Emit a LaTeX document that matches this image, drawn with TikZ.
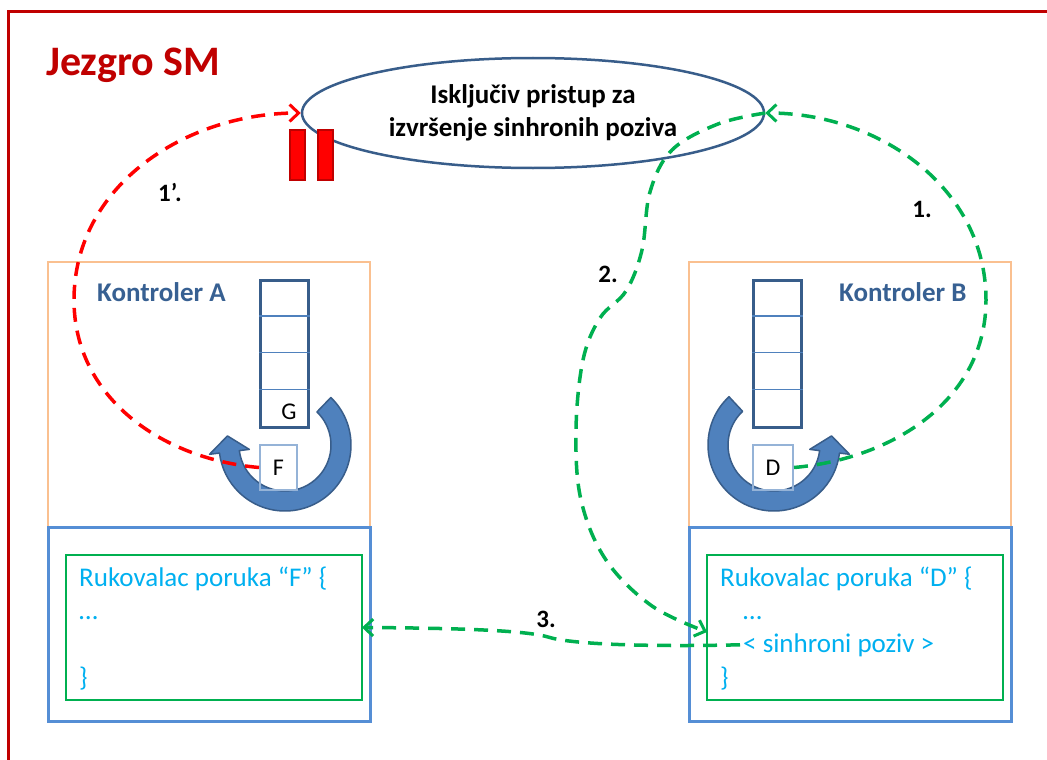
\documentclass[tikz,border=0pt]{standalone}
\usepackage{fontspec}
\setmainfont{Carlito}
\usetikzlibrary{arrows.meta,shapes.geometric,calc}

\definecolor{frameRed}{HTML}{C00000}
\definecolor{lockRed}{HTML}{FF0000}
\definecolor{steel}{HTML}{385D8A}
\definecolor{ctrlText}{HTML}{376092}
\definecolor{ctrlOrange}{HTML}{FAC090}
\definecolor{handlerBlue}{HTML}{558ED5}
\definecolor{codeGreen}{HTML}{00B050}
\definecolor{codeCyan}{HTML}{00B0F0}
\definecolor{loopBlue}{HTML}{4F81BD}
\definecolor{msgBlue}{HTML}{95B3D7}

\begin{document}
\begin{tikzpicture}[x=1pt,y=-1pt,
  ctrlbox/.style={draw=ctrlOrange, line width=2.5pt, anchor=north west, inner sep=0, outer sep=0},
  handlerbox/.style={draw=handlerBlue, line width=3pt, anchor=north west, inner sep=0, outer sep=0},
  codebox/.style={draw=codeGreen, line width=2.5pt, anchor=north west, inner sep=0, outer sep=0},
  queue/.style={draw=steel, line width=2.5pt, anchor=north west, inner sep=0, minimum width=48pt, minimum height=147pt},
  msgbox/.style={draw=msgBlue, line width=2pt, inner sep=0, minimum height=45pt, font=\fontsize{24}{28}\selectfont},
  ctrllabel/.style={text=ctrlText, anchor=base west, inner sep=0, font=\fontsize{27}{32}\selectfont\bfseries},
  code/.style={text=codeCyan, anchor=base west, inner sep=0, font=\fontsize{27}{32}\selectfont},
  steplabel/.style={inner sep=0, font=\fontsize{25}{30}\selectfont\bfseries},
  loop/.style={fill=loopBlue, draw=steel, line width=1.5pt, line join=round},
  flow/.style={line width=3.5pt, dash pattern=on 14pt off 9pt,
    -{Straight Barb[length=9pt,width=17pt,line width=3pt]}},
  lock/.style={fill=lockRed, draw=frameRed, line width=1.5pt}]

\useasboundingbox (0,0) rectangle (1047,760);
\fill[white] (0,0) rectangle (1047,760);

% kernel frame and title
\draw[frameRed, line width=3pt] (8,760) -- (8,12) -- (1047,12);
\node[anchor=base west, inner sep=0, text=frameRed,
      font=\fontsize{42}{48}\selectfont\bfseries] (title) at (46,76) {Jezgro SM};

% shared section with exclusive access
\node[ellipse, draw=steel, line width=2.5pt, minimum width=462pt, minimum height=110pt,
      inner sep=0, align=center, font=\fontsize{27}{33}\selectfont\bfseries]
      (E) at (533,113) {Isključiv pristup za\\izvršenje sinhronih poziva};
\filldraw[lock] (290,130) rectangle (305,180);
\filldraw[lock] (318,130) rectangle (333,180);

% controllers
\node[ctrlbox, minimum width=322pt, minimum height=265pt] (kA) at (48,262) {};
\node[ctrlbox, minimum width=322pt, minimum height=265pt] (kB) at (689,262) {};
\node[handlerbox, minimum width=322pt, minimum height=194pt] (hA) at (48,527) {};
\node[handlerbox, minimum width=322pt, minimum height=194pt] (hB) at (689,527) {};
\node[codebox, minimum width=296pt, minimum height=145pt] (gA) at (66,555) {};
\node[codebox, minimum width=296pt, minimum height=145pt] (gB) at (707,555) {};

\node[ctrllabel] (kAt) at (97,301) {Kontroler A};
\node[ctrllabel] (kBt) at (839,301) {Kontroler B};

% message queues
\node[queue] (qA) at (259,279) {};
\node[queue] (qB) at (752,279) {};
\foreach \q in {qA,qB}{
  \foreach \k in {1,2,3}{
    \draw[loopBlue, line width=1.5pt]
      ($(\q.north west)+(0,36.75*\k)$) -- ($(\q.north east)+(0,36.75*\k)$);
  }
}
\node[inner sep=0, font=\fontsize{24}{28}\selectfont] (G) at (289,412) {G};

% dispatch loops
\coordinate (cA) at (285,445);
\coordinate (cB) at (774,445);
\path[loop] ($(cA)+(-46:66)$) arc[start angle=-46, end angle=173, radius=66]
  -- ($(cA)+(173:76)$) -- ($(cA)+(173:56)+(-1.95,-15.9)$) -- ($(cA)+(173:36)$)
  -- ($(cA)+(173:46)$) arc[start angle=173, end angle=-46, radius=46] -- cycle;
\path[loop] ($(cB)+(227:66)$) arc[start angle=227, end angle=7, radius=66]
  -- ($(cB)+(7:76)$) -- ($(cB)+(7:56)+(1.95,-15.9)$) -- ($(cB)+(7:36)$)
  -- ($(cB)+(7:46)$) arc[start angle=7, end angle=227, radius=46] -- cycle;

% current messages
\node[msgbox, minimum width=37pt] (F) at (278.5,467.5) {F};
\node[msgbox, minimum width=40pt] (D) at (773,467.5) {D};

% message handlers
\node[code] (hA1) at (79,586) {Rukovalac poruka “F” \{};
\node[code] (hA2) at (79,619) {…};
\node[code] (hA3) at (79,686) {\}};
\node[code] (hB1) at (720,586) {Rukovalac poruka “D” \{};
\node[code] (hB2) at (743,619) {…};
\node[code, inner xsep=3pt] (hB3) at (740,652) {< sinhroni poziv >};
\node[code] (hB4) at (720,686) {\}};

% flows (to-angles are page angles: 90 = up)
\draw[flow, lockRed] (F.west) to[out=175, in=-90] (74,300) to[out=90, in=180] (E.west);
\draw[flow, codeGreen] (D.east) to[out=5, in=-90] (986,300) to[out=90, in=0] (E.east);
\draw[flow, codeGreen] plot[smooth, tension=0.6] coordinates {(E.east) (718,124) (672,150)
  (650,192) (642,250) (626,291) (600,318) (583,360) (576,430) (581,500) (606,560)
  (652,606) ($(gB.west)+(0,4.5)$)};
\draw[flow, codeGreen] (hB3.west) .. controls (640,647) and (570,644) .. (548,637)
  .. controls (525,630) and (450,628) .. (gA.east);

% step labels
\node[steplabel] (s1p) at (170,192) {1’.};
\node[steplabel] (s1) at (922,209) {1.};
\node[steplabel] (s2) at (608,274) {2.};
\node[steplabel] (s3) at (546,619) {3.};
\end{tikzpicture}
\end{document}
